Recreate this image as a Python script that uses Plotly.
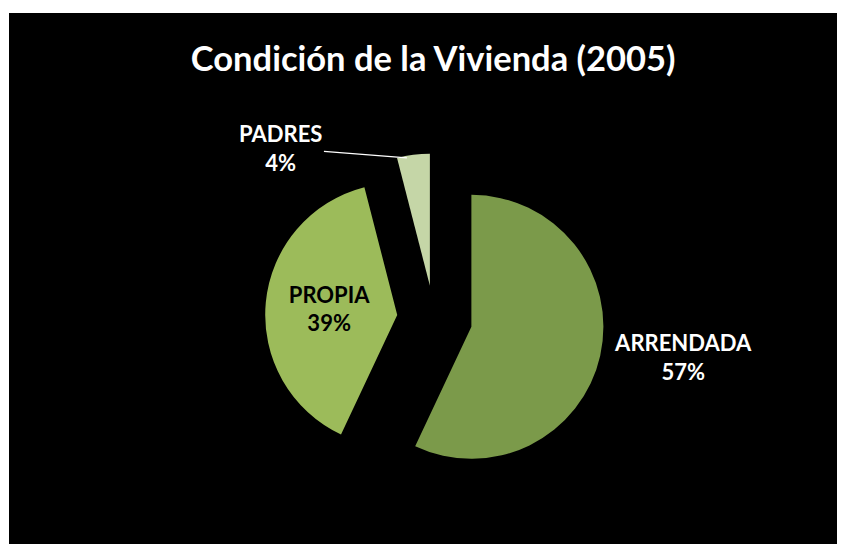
import plotly.graph_objects as go

labels = ["ARRENDADA", "PROPIA", "PADRES"]
values = [57, 39, 4]
colors = ["#7b9a4a", "#9cbb5a", "#c5d6a7"]
pulls = [0.29, 0.28, 0.25]
text_templates = ["<b>%{label}<br>%{percent:.0%}</b>", "<b>%{label}<br>%{percent:.0%}</b>", ""]
positions = ["outside", "inside", "none"]

FONT = "Lato"
LABEL_SIZE = 22

fig = go.Figure(go.Pie(
    labels=labels,
    values=values,
    sort=False,
    direction="clockwise",
    rotation=0,
    pull=pulls,
    marker=dict(colors=colors, line=dict(width=0)),
    texttemplate=text_templates,
    textposition=positions,
    insidetextorientation="horizontal",
    outsidetextfont=dict(family=FONT, size=LABEL_SIZE, color="white"),
    insidetextfont=dict(family=FONT, size=LABEL_SIZE, color="black"),
    domain=dict(x=[0.3047, 0.7121], y=[0.103, 0.7463]),
    showlegend=False,
    hoverinfo="label+percent",
))

fig.add_annotation(
    x=0.476, y=0.727, xref="paper", yref="paper",
    text=f"<b>{labels[2]}<br>{values[2]}%</b>",
    showarrow=True, arrowhead=0, arrowwidth=1.2, arrowcolor="white",
    ax=-126, ay=-10,
    font=dict(family=FONT, size=LABEL_SIZE, color="white"),
    align="center",
)

fig.add_shape(type="rect", xref="paper", yref="paper", x0=0, x1=1, y0=0, y1=1,
              fillcolor="black", line=dict(width=0), layer="below")

fig.update_layout(
    width=837, height=536,
    margin=dict(l=1, t=5, r=0, b=0),
    paper_bgcolor="white",
    plot_bgcolor="black",
    title=dict(text="<b>Condición de la Vivienda (2005)</b>", x=0.508, xanchor="center",
               y=0.905, yanchor="middle",
               font=dict(family=FONT, size=34.5, color="white")),
)

fig.write_html("out.html")
